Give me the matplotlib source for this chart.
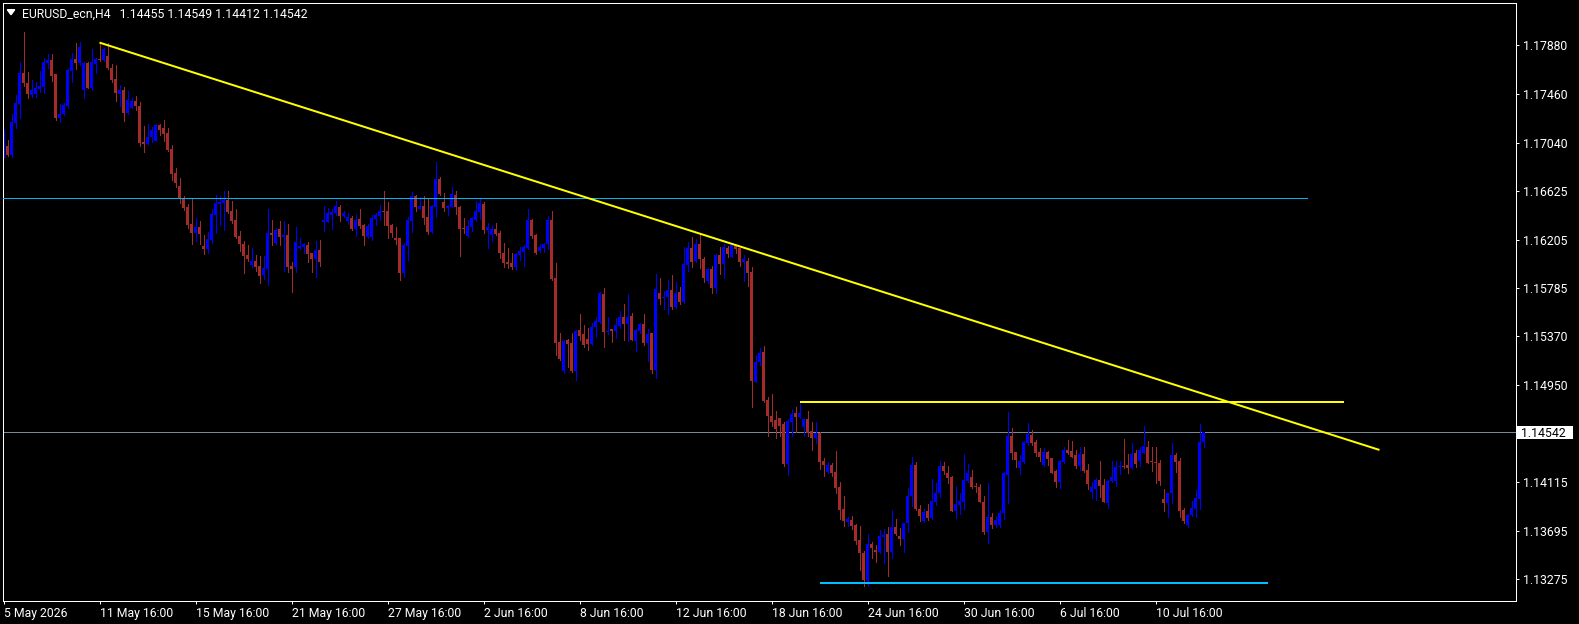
import numpy as np
import matplotlib
matplotlib.use("Agg")
import matplotlib.pyplot as plt
from matplotlib.patches import Polygon, Rectangle
from matplotlib.transforms import blended_transform_factory

plt.rcParams['font.family'] = ['Roboto', 'DejaVu Sans']

SYMBOL = "EURUSD_ecn,H4"

OPEN = [
    1.16926, 1.17013, 1.16935, 1.17214, 1.17375, 1.17646, 1.17559, 1.17453, 1.17459, 1.17505,
    1.17525, 1.17732, 1.17755, 1.17631, 1.17254, 1.17286, 1.17358, 1.17663, 1.17764, 1.17729,
    1.17496, 1.17729, 1.17513, 1.17720, 1.17764, 1.17755, 1.17789, 1.17686, 1.17591, 1.17461,
    1.17496, 1.17297, 1.17344, 1.17401, 1.17358, 1.17050, 1.17030, 1.17090, 1.17059, 1.17194,
    1.17165, 1.17125, 1.16987, 1.16780, 1.16667, 1.16561, 1.16489, 1.16337, 1.16265, 1.16316,
    1.16150, 1.16125, 1.16202, 1.16418, 1.16513, 1.16519, 1.16547, 1.16453, 1.16375, 1.16237,
    1.16168, 1.16073, 1.15986, 1.16021, 1.15981, 1.15900, 1.15952, 1.16266, 1.16173, 1.16297,
    1.16225, 1.16245, 1.15981, 1.15966, 1.16136, 1.16145, 1.16159, 1.16087, 1.16035, 1.16116,
    1.16360, 1.16360, 1.16418, 1.16432, 1.16484, 1.16409, 1.16366, 1.16389, 1.16297, 1.16383,
    1.16332, 1.16225, 1.16225, 1.16381, 1.16412, 1.16453, 1.16453, 1.16332, 1.16217, 1.16217,
    1.15915, 1.16153, 1.16369, 1.16582, 1.16470, 1.16496, 1.16404, 1.16274, 1.16490, 1.16729,
    1.16533, 1.16481, 1.16490, 1.16591, 1.16490, 1.16309, 1.16237, 1.16312, 1.16375, 1.16447,
    1.16513, 1.16289, 1.16245, 1.16297, 1.16260, 1.16087, 1.16015, 1.16007, 1.15966, 1.16073,
    1.16102, 1.16130, 1.16375, 1.16245, 1.16110, 1.16130, 1.16168, 1.16375, 1.15871, 1.15325,
    1.15074, 1.15339, 1.15316, 1.15074, 1.15425, 1.15391, 1.15348, 1.15302, 1.15448, 1.15497,
    1.15735, 1.15405, 1.15431, 1.15416, 1.15459, 1.15534, 1.15477, 1.15546, 1.15333, 1.15416,
    1.15477, 1.15315, 1.15402, 1.15080, 1.15747, 1.15698, 1.15712, 1.15770, 1.15620, 1.15753,
    1.15664, 1.15986, 1.16135, 1.16020, 1.16167, 1.16040, 1.15848, 1.15948, 1.15790, 1.16072,
    1.15994, 1.16135, 1.16058, 1.16150, 1.16130, 1.16015, 1.16020, 1.15922, 1.14979, 1.15146,
    1.15232, 1.14821, 1.14682, 1.14648, 1.14662, 1.14613, 1.14265, 1.14634, 1.14711, 1.14677,
    1.14591, 1.14657, 1.14553, 1.14496, 1.14539, 1.14294, 1.14202, 1.14260, 1.14196, 1.14067,
    1.13880, 1.13771, 1.13785, 1.13742, 1.13612, 1.13503, 1.13258, 1.13578, 1.13526, 1.13512,
    1.13641, 1.13661, 1.13512, 1.13727, 1.13650, 1.13621, 1.13756, 1.13992, 1.14260, 1.13880,
    1.13779, 1.13863, 1.13799, 1.13943, 1.14015, 1.14251, 1.14188, 1.14153, 1.13866, 1.13914,
    1.13943, 1.14124, 1.14153, 1.14078, 1.14067, 1.13943, 1.13684, 1.13814, 1.13742, 1.13742,
    1.13843, 1.14173, 1.14510, 1.14375, 1.14237, 1.14288, 1.14447, 1.14519, 1.14461, 1.14375,
    1.14260, 1.14375, 1.14317, 1.14208, 1.14116, 1.14288, 1.14389, 1.14381, 1.14346, 1.14251,
    1.14352, 1.14217, 1.14030, 1.14053, 1.14130, 1.14087, 1.13935, 1.14122, 1.14122, 1.14245,
    1.14251, 1.14260, 1.14231, 1.14360, 1.14297, 1.14366, 1.14418, 1.14295, 1.14289, 1.14275,
    1.13967, 1.13929, 1.14022, 1.14347, 1.14295, 1.13872, 1.13742, 1.13826, 1.13883, 1.13967,
    1.14455,
]

HIGH = [
    1.17151, 1.17064, 1.17286, 1.17453, 1.17735, 1.17999, 1.17648, 1.17582, 1.17568, 1.17660,
    1.17775, 1.17804, 1.17804, 1.17634, 1.17372, 1.17381, 1.17689, 1.17812, 1.17899, 1.17907,
    1.17735, 1.17741, 1.17850, 1.17769, 1.17899, 1.17856, 1.17899, 1.17718, 1.17712, 1.17539,
    1.17525, 1.17487, 1.17438, 1.17444, 1.17390, 1.17188, 1.17203, 1.17177, 1.17205, 1.17200,
    1.17237, 1.17165, 1.17021, 1.16820, 1.16734, 1.16581, 1.16509, 1.16561, 1.16394, 1.16365,
    1.16244, 1.16274, 1.16467, 1.16591, 1.16582, 1.16625, 1.16625, 1.16542, 1.16467, 1.16280,
    1.16194, 1.16159, 1.16136, 1.16073, 1.16064, 1.16064, 1.16467, 1.16375, 1.16303, 1.16366,
    1.16366, 1.16340, 1.16015, 1.16312, 1.16217, 1.16173, 1.16182, 1.16087, 1.16194, 1.16202,
    1.16496, 1.16481, 1.16467, 1.16539, 1.16504, 1.16453, 1.16438, 1.16409, 1.16427, 1.16467,
    1.16340, 1.16340, 1.16418, 1.16432, 1.16501, 1.16625, 1.16527, 1.16340, 1.16312, 1.16217,
    1.16173, 1.16404, 1.16619, 1.16591, 1.16570, 1.16582, 1.16553, 1.16504, 1.16875, 1.16743,
    1.16605, 1.16504, 1.16657, 1.16628, 1.16496, 1.16389, 1.16375, 1.16404, 1.16539, 1.16568,
    1.16533, 1.16352, 1.16332, 1.16346, 1.16280, 1.16173, 1.16130, 1.16093, 1.16087, 1.16145,
    1.16159, 1.16467, 1.16383, 1.16254, 1.16165, 1.16173, 1.16409, 1.16453, 1.16001, 1.15402,
    1.15339, 1.15345, 1.15402, 1.15425, 1.15561, 1.15469, 1.15440, 1.15483, 1.15540, 1.15756,
    1.15784, 1.15534, 1.15433, 1.15525, 1.15589, 1.15649, 1.15733, 1.15569, 1.15433, 1.15482,
    1.15563, 1.15433, 1.15402, 1.15908, 1.15871, 1.15761, 1.15856, 1.15899, 1.15836, 1.15796,
    1.16138, 1.16187, 1.16225, 1.16210, 1.16245, 1.16052, 1.15957, 1.15980, 1.16078, 1.16144,
    1.16167, 1.16150, 1.16167, 1.16158, 1.16135, 1.16072, 1.16043, 1.15968, 1.15209, 1.15267,
    1.15287, 1.14849, 1.14869, 1.14729, 1.14668, 1.14634, 1.14657, 1.14740, 1.14757, 1.14792,
    1.14662, 1.14726, 1.14628, 1.14628, 1.14547, 1.14317, 1.14283, 1.14274, 1.14381, 1.14110,
    1.13992, 1.13808, 1.13820, 1.13750, 1.13733, 1.13517, 1.13664, 1.13598, 1.13569, 1.13699,
    1.13704, 1.13727, 1.13871, 1.13791, 1.13713, 1.13762, 1.14058, 1.14332, 1.14288, 1.13914,
    1.13877, 1.13920, 1.14139, 1.14101, 1.14294, 1.14288, 1.14251, 1.14165, 1.14078, 1.14015,
    1.14355, 1.14268, 1.14217, 1.14101, 1.14096, 1.13992, 1.14101, 1.13848, 1.13820, 1.13871,
    1.14202, 1.14720, 1.14582, 1.14375, 1.14346, 1.14467, 1.14619, 1.14562, 1.14475, 1.14404,
    1.14404, 1.14381, 1.14323, 1.14217, 1.14303, 1.14418, 1.14475, 1.14467, 1.14389, 1.14412,
    1.14412, 1.14265, 1.14116, 1.14145, 1.14297, 1.14136, 1.14130, 1.14294, 1.14294, 1.14294,
    1.14481, 1.14355, 1.14452, 1.14389, 1.14418, 1.14596, 1.14467, 1.14419, 1.14413, 1.14303,
    1.14050, 1.14022, 1.14453, 1.14367, 1.14318, 1.13886, 1.13837, 1.13950, 1.14045, 1.14614,
    1.14549,
]

LOW = [
    1.16921, 1.16929, 1.16921, 1.17165, 1.17257, 1.17531, 1.17430, 1.17438, 1.17438, 1.17482,
    1.17467, 1.17689, 1.17574, 1.17237, 1.17223, 1.17280, 1.17344, 1.17568, 1.17677, 1.17712,
    1.17430, 1.17510, 1.17496, 1.17646, 1.17746, 1.17746, 1.17677, 1.17562, 1.17401, 1.17361,
    1.17228, 1.17286, 1.17338, 1.17323, 1.17016, 1.16964, 1.17021, 1.17050, 1.17056, 1.17108,
    1.17059, 1.16970, 1.16719, 1.16659, 1.16524, 1.16460, 1.16308, 1.16170, 1.16193, 1.16164,
    1.16083, 1.16087, 1.16173, 1.16266, 1.16332, 1.16289, 1.16432, 1.16352, 1.16217, 1.16110,
    1.15920, 1.16024, 1.15972, 1.15938, 1.15834, 1.15866, 1.15814, 1.16159, 1.16168, 1.16159,
    1.15938, 1.15929, 1.15756, 1.15929, 1.16125, 1.16087, 1.16015, 1.15929, 1.15880, 1.15978,
    1.16283, 1.16355, 1.16297, 1.16418, 1.16369, 1.16404, 1.16340, 1.16289, 1.16240, 1.16303,
    1.16159, 1.16217, 1.16202, 1.16332, 1.16375, 1.16332, 1.16222, 1.16225, 1.16165, 1.15857,
    1.15886, 1.16030, 1.16274, 1.16453, 1.16467, 1.16340, 1.16254, 1.16266, 1.16404, 1.16591,
    1.16455, 1.16418, 1.16484, 1.16424, 1.16067, 1.16260, 1.16225, 1.16283, 1.16366, 1.16383,
    1.16266, 1.16136, 1.16194, 1.16245, 1.16050, 1.15966, 1.15958, 1.15952, 1.15943, 1.16030,
    1.15981, 1.16122, 1.16222, 1.16081, 1.16096, 1.16102, 1.16122, 1.15857, 1.15210, 1.15166,
    1.15051, 1.15109, 1.15066, 1.14994, 1.15339, 1.15282, 1.15253, 1.15296, 1.15362, 1.15489,
    1.15281, 1.15390, 1.15324, 1.15353, 1.15439, 1.15338, 1.15333, 1.15336, 1.15244, 1.15402,
    1.15295, 1.15157, 1.15056, 1.15008, 1.15649, 1.15606, 1.15563, 1.15603, 1.15612, 1.15649,
    1.15658, 1.15937, 1.15971, 1.16015, 1.15963, 1.15836, 1.15828, 1.15747, 1.15747, 1.15908,
    1.15876, 1.16058, 1.16055, 1.16086, 1.15980, 1.15851, 1.15807, 1.14763, 1.14973, 1.15123,
    1.14806, 1.14513, 1.14596, 1.14495, 1.14513, 1.14254, 1.14173, 1.14510, 1.14547, 1.14662,
    1.14513, 1.14513, 1.14389, 1.14452, 1.14225, 1.14165, 1.14188, 1.14165, 1.14021, 1.13794,
    1.13733, 1.13733, 1.13704, 1.13578, 1.13353, 1.13215, 1.13218, 1.13460, 1.13425, 1.13503,
    1.13417, 1.13305, 1.13460, 1.13656, 1.13569, 1.13512, 1.13684, 1.13909, 1.13871, 1.13779,
    1.13771, 1.13785, 1.13794, 1.13914, 1.13986, 1.14179, 1.14101, 1.13863, 1.13805, 1.13837,
    1.13880, 1.14116, 1.14064, 1.14030, 1.13937, 1.13664, 1.13589, 1.13713, 1.13727, 1.13727,
    1.13791, 1.13929, 1.14311, 1.14245, 1.14182, 1.14280, 1.14432, 1.14432, 1.14337, 1.14294,
    1.14254, 1.14260, 1.14188, 1.14073, 1.14064, 1.14280, 1.14355, 1.14326, 1.14231, 1.14217,
    1.14202, 1.14053, 1.13972, 1.13958, 1.13981, 1.13937, 1.13891, 1.14110, 1.14081, 1.14182,
    1.14231, 1.14194, 1.14222, 1.14245, 1.14251, 1.14360, 1.14274, 1.14211, 1.14102, 1.14088,
    1.13866, 1.13809, 1.13935, 1.14203, 1.13809, 1.13757, 1.13722, 1.13820, 1.13814, 1.13878,
    1.14412,
]

CLOSE = [
    1.17013, 1.16935, 1.17220, 1.17384, 1.17646, 1.17559, 1.17461, 1.17496, 1.17510, 1.17531,
    1.17735, 1.17755, 1.17620, 1.17254, 1.17289, 1.17367, 1.17669, 1.17764, 1.17729, 1.17864,
    1.17729, 1.17516, 1.17735, 1.17764, 1.17758, 1.17850, 1.17689, 1.17582, 1.17470, 1.17496,
    1.17297, 1.17407, 1.17401, 1.17358, 1.17039, 1.17030, 1.17093, 1.17148, 1.17194, 1.17151,
    1.17116, 1.16978, 1.16771, 1.16696, 1.16561, 1.16480, 1.16331, 1.16265, 1.16316, 1.16250,
    1.16121, 1.16211, 1.16427, 1.16519, 1.16533, 1.16547, 1.16441, 1.16369, 1.16225, 1.16168,
    1.16064, 1.16035, 1.16021, 1.15972, 1.15892, 1.15963, 1.16266, 1.16245, 1.16289, 1.16225,
    1.16245, 1.15972, 1.15952, 1.16182, 1.16150, 1.16165, 1.16081, 1.16038, 1.16116, 1.16015,
    1.16375, 1.16432, 1.16447, 1.16496, 1.16409, 1.16438, 1.16404, 1.16297, 1.16375, 1.16326,
    1.16237, 1.16326, 1.16395, 1.16418, 1.16453, 1.16444, 1.16323, 1.16260, 1.16202, 1.15915,
    1.16159, 1.16375, 1.16582, 1.16490, 1.16496, 1.16395, 1.16268, 1.16499, 1.16729, 1.16596,
    1.16481, 1.16496, 1.16599, 1.16484, 1.16297, 1.16294, 1.16323, 1.16395, 1.16455, 1.16519,
    1.16289, 1.16312, 1.16297, 1.16254, 1.16087, 1.16007, 1.15995, 1.15966, 1.16079, 1.16107,
    1.16145, 1.16375, 1.16237, 1.16093, 1.16145, 1.16168, 1.16375, 1.15866, 1.15316, 1.15172,
    1.15333, 1.15305, 1.15072, 1.15417, 1.15374, 1.15296, 1.15305, 1.15454, 1.15506, 1.15742,
    1.15410, 1.15416, 1.15416, 1.15468, 1.15534, 1.15477, 1.15534, 1.15338, 1.15425, 1.15477,
    1.15310, 1.15390, 1.15080, 1.15779, 1.15692, 1.15712, 1.15770, 1.15620, 1.15747, 1.15664,
    1.15994, 1.16135, 1.16015, 1.16167, 1.16035, 1.15876, 1.15948, 1.15790, 1.16072, 1.15994,
    1.16138, 1.16078, 1.16158, 1.16121, 1.16015, 1.16035, 1.15920, 1.14987, 1.15146, 1.15229,
    1.14815, 1.14682, 1.14634, 1.14567, 1.14599, 1.14268, 1.14639, 1.14700, 1.14677, 1.14706,
    1.14657, 1.14533, 1.14496, 1.14533, 1.14288, 1.14260, 1.14260, 1.14194, 1.14064, 1.13871,
    1.13776, 1.13791, 1.13733, 1.13604, 1.13503, 1.13267, 1.13578, 1.13540, 1.13512, 1.13650,
    1.13656, 1.13512, 1.13727, 1.13661, 1.13621, 1.13756, 1.13992, 1.14260, 1.13877, 1.13820,
    1.13851, 1.13799, 1.13949, 1.14015, 1.14251, 1.14208, 1.14150, 1.13866, 1.13920, 1.13949,
    1.14130, 1.14194, 1.14073, 1.14067, 1.13943, 1.13679, 1.13814, 1.13742, 1.13785, 1.13848,
    1.14188, 1.14510, 1.14366, 1.14303, 1.14294, 1.14461, 1.14524, 1.14452, 1.14366, 1.14332,
    1.14375, 1.14309, 1.14194, 1.14116, 1.14297, 1.14389, 1.14366, 1.14332, 1.14251, 1.14352,
    1.14208, 1.14096, 1.14067, 1.14130, 1.14078, 1.13943, 1.14122, 1.14153, 1.14245, 1.14251,
    1.14240, 1.14231, 1.14355, 1.14268, 1.14389, 1.14424, 1.14280, 1.14283, 1.14275, 1.14125,
    1.13929, 1.14016, 1.14347, 1.14289, 1.13866, 1.13780, 1.13826, 1.13892, 1.13973, 1.14455,
    1.14542,
]

XTICK_LABELS = ["5 May 2026", "11 May 16:00", "15 May 16:00", "21 May 16:00",
                "27 May 16:00", "2 Jun 16:00", "8 Jun 16:00", "12 Jun 16:00",
                "18 Jun 16:00", "24 Jun 16:00", "30 Jun 16:00", "6 Jul 16:00",
                "10 Jul 16:00"]
YTICKS = [1.17880, 1.17460, 1.17040, 1.16625, 1.16205, 1.15785, 1.15370,
          1.14950, 1.14115, 1.13695, 1.13275]

# drawn objects (bar index, price)
TREND_X = [24, 344]
TREND_Y = [1.17905, 1.14390]
RES_X = [199, 335]
RES_Y = 1.14806
TOPLVL_X = [-1, 325.8]
TOPLVL_Y = 1.16564
BOTLVL_X = [204, 316]
BOTLVL_Y = 1.13244

o = np.array(OPEN); h = np.array(HIGH); l = np.array(LOW); c = np.array(CLOSE)
idx = np.arange(len(c))

W, H = 1579, 624
fig = plt.figure(figsize=(W / 100, H / 100), dpi=100, facecolor='black')
L, R, T, B = 2.5, 1515.5, 2.5, 600.5
ax = fig.add_axes([L / W, 1 - B / H, (R - L) / W, (B - T) / H], facecolor='black')

Y_MIN, Y_MAX = 1.13091, 1.18251
ax.set_ylim(Y_MIN, Y_MAX)
ax.set_xlim(-0.25, 378.0)
ppx = (Y_MAX - Y_MIN) / (B - T)

bull = c >= o
col = np.where(bull, '#0000ff', '#a52a2a')

ax.axhline(c[-1], color='#778899', lw=0.72, zorder=1, antialiased=False)
ax.vlines(idx, l, h, colors=col, linewidth=0.72, antialiased=False, zorder=2)
lo = np.minimum(o, c)
hh = np.maximum(np.abs(c - o), ppx)
ax.bar(idx, hh, bottom=lo, width=0.75, color=col, linewidth=0,
       antialiased=False, zorder=2.5)

ax.plot(TOPLVL_X, [TOPLVL_Y] * 2, color='#00b4f0', lw=0.72, zorder=3, antialiased=False)
ax.plot(BOTLVL_X, [BOTLVL_Y] * 2, color='#00bfff', lw=1.44, zorder=3, solid_capstyle='butt')
ax.plot(RES_X, [RES_Y] * 2, color='#ffff00', lw=1.44, zorder=3, solid_capstyle='butt')
ax.plot(TREND_X, TREND_Y, color='#ffff00', lw=1.44, zorder=3, solid_capstyle='butt')

for s in ax.spines.values():
    s.set_color('white')
    s.set_linewidth(0.72)

ax.yaxis.tick_right()
ax.set_yticks(YTICKS)
ax.set_yticklabels([f"{v:.5f}" for v in YTICKS])
ax.tick_params(axis='y', colors='white', labelsize=8.8, length=2.2, width=0.72,
               pad=3, direction='out')
xt = np.arange(0, len(c), 24)[:len(XTICK_LABELS)]
ax.set_xticks(xt)
ax.set_xticklabels(XTICK_LABELS)
ax.tick_params(axis='x', colors='white', labelsize=8.8, length=2.2, width=0.72,
               pad=2.2, direction='out')
for t in ax.get_xticklabels():
    t.set_ha('left')

# current price box on the price scale
tr = blended_transform_factory(ax.transAxes, ax.transData)
x0 = (1517 - L) / (R - L)
x1 = (1573 - L) / (R - L)
ax.add_patch(Rectangle((x0, c[-1] - 6.5 * ppx), x1 - x0, 13 * ppx, transform=tr,
                       facecolor='white', edgecolor='none', clip_on=False, zorder=5))
ax.text((1521.5 - L) / (R - L), c[-1], f"{c[-1]:.5f}", transform=tr, color='black',
        fontsize=8.8, va='center_baseline', ha='left', clip_on=False, zorder=6)

# header
fig.add_artist(Polygon([[7.3 / W, 1 - 9.7 / H], [14.7 / W, 1 - 9.7 / H], [11 / W, 1 - 14.7 / H]],
                       closed=True, transform=fig.transFigure, color='white'))
header = f"{SYMBOL}   {o[-1]:.5f} {h[-1]:.5f} {l[-1]:.5f} {c[-1]:.5f}"
fig.text(21.5 / W, 1 - 17.3 / H, header, color='white', fontsize=8.8, va='baseline', ha='left')

fig.savefig('out.png', dpi=100, facecolor='black')
